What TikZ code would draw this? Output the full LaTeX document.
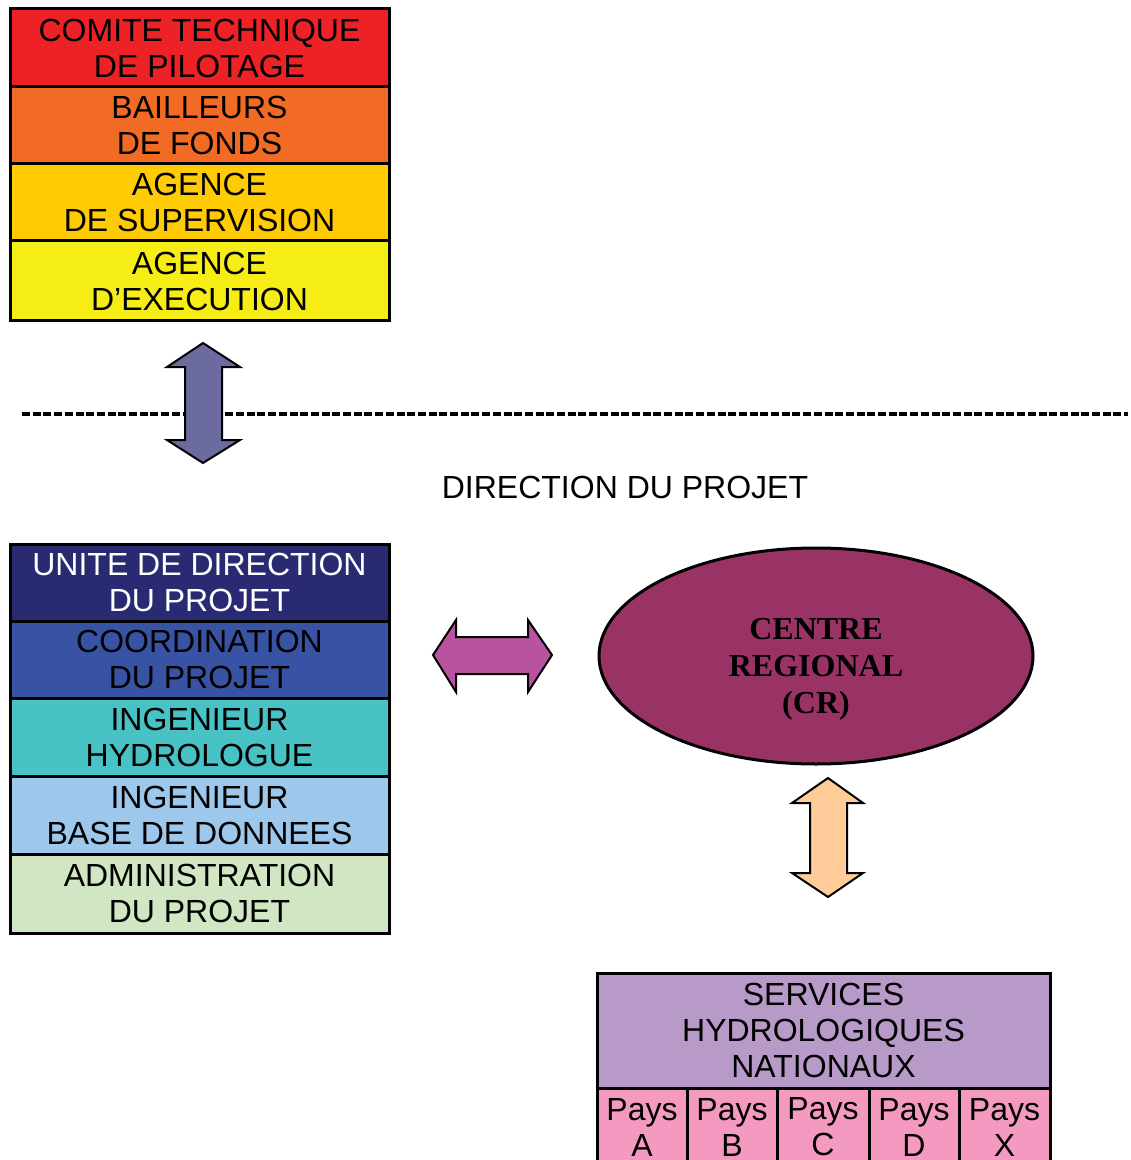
\documentclass[tikz,border=0pt]{standalone}
\usepackage{fontspec}
\setmainfont{Liberation Sans}
\newfontfamily\crfont{Liberation Serif}
\usetikzlibrary{shapes.geometric}
\definecolor{cred}{HTML}{ED2226}
\definecolor{corange}{HTML}{F26B25}
\definecolor{cgold}{HTML}{FFCB05}
\definecolor{cyellow}{HTML}{F6EC16}
\definecolor{cnavy}{HTML}{2A2A72}
\definecolor{cblue}{HTML}{3953A4}
\definecolor{cteal}{HTML}{48C2C5}
\definecolor{clblue}{HTML}{9DC8EB}
\definecolor{clgreen}{HTML}{D1E7C4}
\definecolor{carrowa}{HTML}{6B6B9F}
\definecolor{carrowb}{HTML}{B9529F}
\definecolor{cellipse}{HTML}{993366}
\definecolor{cpeach}{HTML}{FFCC99}
\definecolor{cservices}{HTML}{B89AC9}
\definecolor{cpink}{HTML}{F49AC1}
\begin{document}
\begin{tikzpicture}[x=0.5pt,y=-0.5pt,
  font=\fontsize{16}{18}\selectfont,
  row/.style={draw=black, line width=1.5pt, minimum width=189.5pt, inner sep=0pt, align=center},
  paysbox/.style={row, fill=cpink, minimum width=45pt, minimum height=39pt},
  blockarrow/.style={draw=black, line width=1pt, line join=miter}]
\useasboundingbox (0,0) rectangle (1130,1160);
\clip (0,0) rectangle (1130,1160);

% top stack
\node[row, fill=cred,    minimum height=39pt]   (ctp) at (199.5,48)    {COMITE TECHNIQUE\\DE PILOTAGE};
\node[row, fill=corange, minimum height=38.5pt] (bf)  at (199.5,125.5) {BAILLEURS\\DE FONDS};
\node[row, fill=cgold,   minimum height=38.5pt] (as)  at (199.5,202.5) {AGENCE\\DE SUPERVISION};
\node[row, fill=cyellow, minimum height=40pt]   (ae)  at (199.5,281)   {AGENCE\\D’EXECUTION};

% dashed separator
\coordinate (dl) at (22,414);
\coordinate (dr) at (1128,414);
\draw[line width=1.6pt, dash pattern=on 4pt off 1.35pt] (dl) -- (dr);

% vertical arrow 1
\draw[blockarrow, fill=carrowa] (203,343) -- (240,367) -- (222,367) -- (222,440) -- (240,440) -- (203,463)
  -- (167,440) -- (185,440) -- (185,367) -- (167,367) -- cycle;

\node (dir) at (625,487) {DIRECTION DU PROJET};

% bottom-left stack
\node[row, fill=cnavy, text=white, minimum height=38.5pt] (udp) at (199.5,582.5) {UNITE DE DIRECTION\\DU PROJET};
\node[row, fill=cblue,   minimum height=38.5pt] (cdp) at (199.5,659.5) {COORDINATION\\DU PROJET};
\node[row, fill=cteal,   minimum height=39pt]   (ih)  at (199.5,737)   {INGENIEUR\\HYDROLOGUE};
\node[row, fill=clblue,  minimum height=39pt]   (ibd) at (199.5,815)   {INGENIEUR\\BASE DE DONNEES};
\node[row, fill=clgreen, minimum height=39.5pt] (adp) at (199.5,893.5) {ADMINISTRATION\\DU PROJET};

% horizontal arrow
\draw[blockarrow, fill=carrowb] (433,655) -- (456,620) -- (456,637) -- (528,637) -- (528,620) -- (552,655)
  -- (528,692) -- (528,674) -- (456,674) -- (456,692) -- cycle;

% ellipse
\node[ellipse, draw=black, line width=1.5pt, fill=cellipse, minimum width=217pt, minimum height=108pt,
  inner sep=0pt] (cr) at (816,656) {};
\node[align=center, inner sep=0pt, font=\crfont\bfseries\fontsize{16}{18.5}\selectfont] (crt) at (816,669)
  {CENTRE\\REGIONAL\\(CR)};

% peach arrow
\draw[blockarrow, fill=cpeach] (828,778) -- (863,803) -- (847,803) -- (847,873) -- (863,873) -- (828,897)
  -- (792,873) -- (810,873) -- (810,803) -- (792,803) -- cycle;

% services
\node[row, fill=cservices, minimum width=226.5pt, minimum height=57.5pt] (shn) at (823.5,1030.5)
  {SERVICES\\HYDROLOGIQUES\\NATIONAUX};
\node[paysbox] (pa) at (642,1127)    {Pays\\A};
\node[paysbox] (pb) at (732,1127)    {Pays\\B};
\node[paysbox, minimum width=46pt] (pc) at (823,1127) {Pays\\C};
\node[paysbox] (pd) at (914,1127)    {Pays\\D};
\node[paysbox, minimum width=45.5pt] (px) at (1004.5,1127) {Pays\\X};
\end{tikzpicture}
\end{document}
